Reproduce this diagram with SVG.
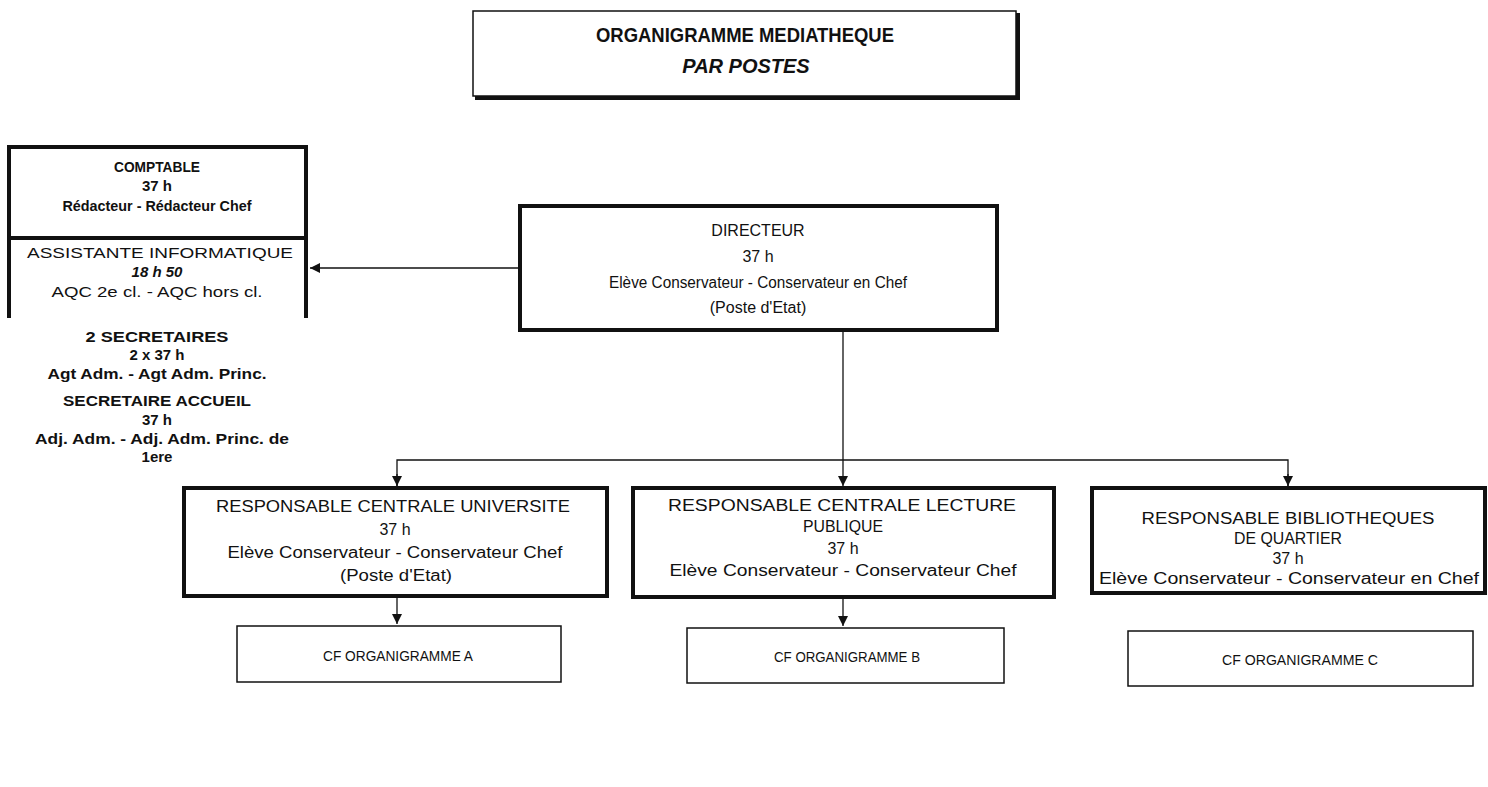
<svg xmlns="http://www.w3.org/2000/svg" width="1488" height="787" viewBox="0 0 1488 787">
<style>
text{font-family:"Liberation Sans",Arial,sans-serif;fill:#111;text-anchor:middle}
.t{font-size:20px;font-weight:bold}
.l{font-size:15px;font-weight:bold}
.n{font-weight:normal}
.d{font-size:16px}
.b{font-size:16px}
.c{font-size:14px}
.thick{fill:none;stroke:#111;stroke-width:4}
.thin{fill:none;stroke:#111;stroke-width:1.5}
.conn{fill:none;stroke:#111;stroke-width:1.3}
</style>
<defs>
<marker id="ah" viewBox="0 0 10 10" refX="10" refY="5" markerWidth="10" markerHeight="10" markerUnits="userSpaceOnUse" orient="auto">
<path d="M0,0 L10,5 L0,10 z" fill="#111"/>
</marker>
</defs>
<rect width="1488" height="787" fill="#fff"/>

<g id="title">
<rect x="473" y="11" width="543" height="85" class="thin"/>
<path d="M475,98 H1018 V13" fill="none" stroke="#111" stroke-width="4"/>
<text class="t" x="745" y="42" textLength="298" lengthAdjust="spacingAndGlyphs">ORGANIGRAMME MEDIATHEQUE</text>
<text class="t" x="746" y="73" font-style="italic">PAR POSTES</text>
</g>

<g id="admin">
<path d="M9,318 V147 H306 V318 M9,238 H306" class="thick"/>
<text class="l" x="157" y="172" textLength="86" lengthAdjust="spacingAndGlyphs">COMPTABLE</text>
<text class="l" x="157" y="191">37 h</text>
<text class="l" x="157" y="211" textLength="189" lengthAdjust="spacingAndGlyphs">Rédacteur - Rédacteur Chef</text>
<text class="l n" x="160" y="258" textLength="266" lengthAdjust="spacingAndGlyphs">ASSISTANTE INFORMATIQUE</text>
<text class="l" x="157" y="277" font-style="italic">18 h 50</text>
<text class="l n" x="157" y="297" textLength="211" lengthAdjust="spacingAndGlyphs">AQC 2e cl. - AQC hors cl.</text>
<text class="l" x="157" y="342" textLength="143" lengthAdjust="spacingAndGlyphs">2 SECRETAIRES</text>
<text class="l" x="157" y="360">2 x 37 h</text>
<text class="l" x="157" y="379" textLength="219" lengthAdjust="spacingAndGlyphs">Agt Adm. - Agt Adm. Princ.</text>
<text class="l" x="157" y="406" textLength="188" lengthAdjust="spacingAndGlyphs">SECRETAIRE ACCUEIL</text>
<text class="l" x="157" y="425">37 h</text>
<text class="l" x="162" y="444" textLength="254" lengthAdjust="spacingAndGlyphs">Adj. Adm. - Adj. Adm. Princ. de</text>
<text class="l" x="157" y="462">1ere</text>
</g>

<g id="directeur">
<rect x="520" y="206" width="477" height="124" class="thick"/>
<text class="d" x="758" y="236">DIRECTEUR</text>
<text class="d" x="758" y="262">37 h</text>
<text class="d" x="758" y="288" textLength="298" lengthAdjust="spacingAndGlyphs">Elève Conservateur - Conservateur en Chef</text>
<text class="d" x="758" y="313">(Poste d'Etat)</text>
</g>

<g id="resp-universite">
<rect x="184" y="488" width="423" height="108" class="thick"/>
<text class="b" x="393" y="512" textLength="354" lengthAdjust="spacingAndGlyphs">RESPONSABLE CENTRALE UNIVERSITE</text>
<text class="b" x="395" y="535">37 h</text>
<text class="b" x="395" y="558" textLength="335" lengthAdjust="spacingAndGlyphs">Elève Conservateur - Conservateur Chef</text>
<text class="b" x="396" y="581" textLength="112" lengthAdjust="spacingAndGlyphs">(Poste d'Etat)</text>
</g>

<g id="resp-lecture">
<rect x="633" y="488" width="421" height="109" class="thick"/>
<text class="b" x="842" y="511" textLength="348" lengthAdjust="spacingAndGlyphs">RESPONSABLE CENTRALE LECTURE</text>
<text class="b" x="843" y="532" textLength="80" lengthAdjust="spacingAndGlyphs">PUBLIQUE</text>
<text class="b" x="843" y="554">37 h</text>
<text class="b" x="843" y="576" textLength="347" lengthAdjust="spacingAndGlyphs">Elève Conservateur - Conservateur Chef</text>
</g>

<g id="resp-quartier">
<rect x="1092" y="488" width="393" height="105" class="thick"/>
<text class="b" x="1288" y="524" textLength="293" lengthAdjust="spacingAndGlyphs">RESPONSABLE BIBLIOTHEQUES</text>
<text class="b" x="1288" y="544" textLength="108" lengthAdjust="spacingAndGlyphs">DE QUARTIER</text>
<text class="b" x="1288" y="564">37 h</text>
<text class="b" x="1289" y="584" textLength="380" lengthAdjust="spacingAndGlyphs">Elève Conservateur - Conservateur en Chef</text>
</g>

<g id="cf-a">
<rect x="237" y="626" width="324" height="56" class="thin"/>
<text class="c" x="398" y="661" textLength="150" lengthAdjust="spacingAndGlyphs">CF ORGANIGRAMME A</text>
</g>
<g id="cf-b">
<rect x="687" y="628" width="317" height="55" class="thin"/>
<text class="c" x="847" y="662" textLength="146" lengthAdjust="spacingAndGlyphs">CF ORGANIGRAMME B</text>
</g>
<g id="cf-c">
<rect x="1128" y="631" width="345" height="55" class="thin"/>
<text class="c" x="1300" y="665" textLength="156" lengthAdjust="spacingAndGlyphs">CF ORGANIGRAMME C</text>
</g>

<g id="connectors">
<path d="M518,268 H310" class="conn" marker-end="url(#ah)"/>
<path d="M843,332 V486" class="conn" marker-end="url(#ah)"/>
<path d="M397,486 V460 H1288 V486" class="conn"/>
<path d="M397,474 V486" class="conn" marker-end="url(#ah)"/>
<path d="M1288,474 V486" class="conn" marker-end="url(#ah)"/>
<path d="M397,598 V624" class="conn" marker-end="url(#ah)"/>
<path d="M843,599 V626" class="conn" marker-end="url(#ah)"/>
</g>
</svg>
